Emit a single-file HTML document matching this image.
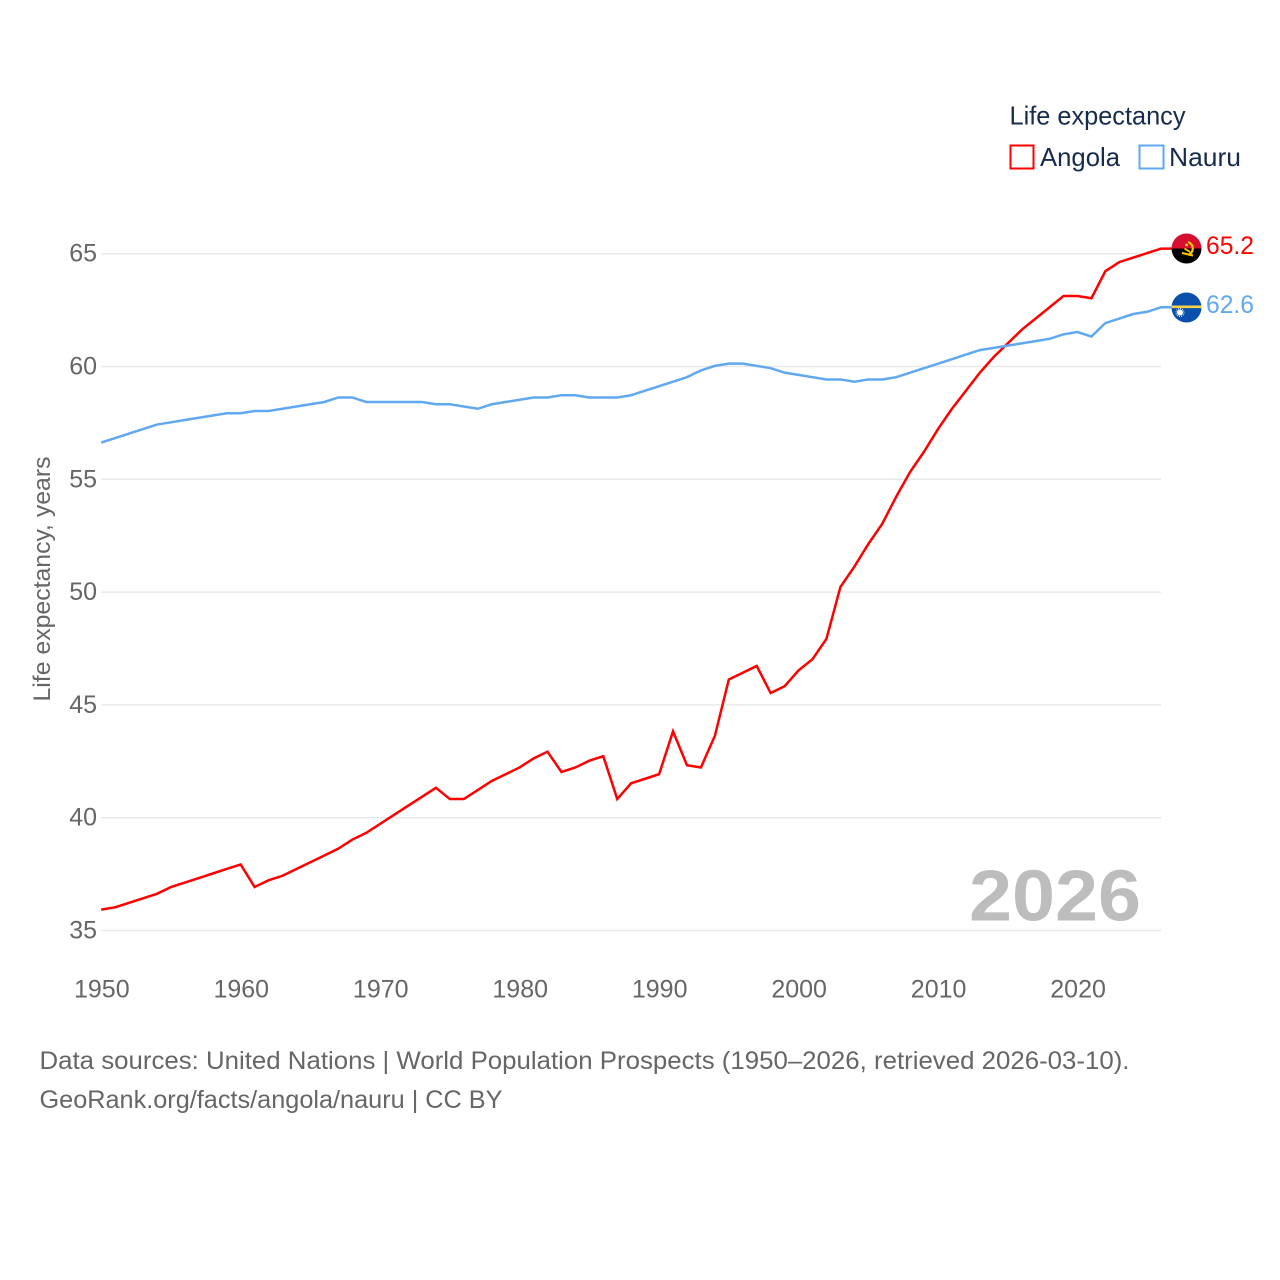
<!DOCTYPE html>
<html lang="en">
<head>
<meta charset="utf-8">
<title>Life expectancy: Angola and Nauru</title>
<style>
  html, body { margin: 0; padding: 0; background: #fff; }
  svg { display: block; }
  text { font-family: "Liberation Sans", sans-serif; }
</style>
</head>
<body>
<svg id="chart" xmlns="http://www.w3.org/2000/svg" width="1280" height="1280" viewBox="0 0 1280 1280">
  <defs>
    <clipPath id="clip-angola"><circle cx="1186.5" cy="248.5" r="15"/></clipPath>
    <clipPath id="clip-nauru"><circle cx="1186.5" cy="307.5" r="15"/></clipPath>
  </defs>
  <rect width="1280" height="1280" fill="#ffffff"/>
  <g id="grid"></g>
  <g id="y-ticks"></g>
  <g id="x-ticks"></g>

  <text transform="translate(50,579) rotate(-90)" text-anchor="middle" font-size="24" fill="#666666" textLength="245" lengthAdjust="spacingAndGlyphs">Life expectancy, years</text>

  <text x="969" y="920.5" font-size="72" font-weight="700" fill="#bdbdbd" textLength="172" lengthAdjust="spacingAndGlyphs">2026</text>

  <g id="series"></g>

  <g clip-path="url(#clip-angola)">
    <rect x="1171" y="233" width="31" height="15.5" fill="#d50f2f"/>
    <rect x="1171" y="248.5" width="31" height="15.5" fill="#000000"/>
    <path d="M1188 242 A6.8 6.8 0 0 1 1188 255" fill="none" stroke="#ffcb00" stroke-width="2.2"/>
    <path d="M1182 253 L1193 255.5" fill="none" stroke="#ffcb00" stroke-width="2"/>
    <path d="M1184.5 248.5 L1190 252" fill="none" stroke="#ffcb00" stroke-width="1.8"/>
    <circle cx="1186.5" cy="245" r="1.4" fill="#ffcb00"/>
  </g>
  <g clip-path="url(#clip-nauru)">
    <rect x="1171" y="292" width="31" height="31" fill="#0a4fab"/>
    <rect x="1171" y="305.5" width="31" height="2.6" fill="#f8d047"/>
    <circle cx="1180" cy="312.5" r="3" fill="#ffffff"/>
    <circle cx="1180" cy="312.5" r="4" fill="none" stroke="#ffffff" stroke-width="1" stroke-dasharray="1 1.1"/>
  </g>

  <text x="1206" y="254" font-size="25" fill="#ff0000" textLength="48" lengthAdjust="spacingAndGlyphs">65.2</text>
  <text x="1206" y="313" font-size="25" fill="#60a8f0" textLength="48" lengthAdjust="spacingAndGlyphs">62.6</text>

  <g>
    <text x="1009.5" y="124.5" font-size="26" fill="#172b4d" textLength="176" lengthAdjust="spacingAndGlyphs">Life expectancy</text>
    <g>
      <rect x="1010.5" y="145.5" width="23" height="23" fill="#ffffff" stroke="#ff0000" stroke-width="2"/>
      <text x="1040" y="166" font-size="26" fill="#172b4d" textLength="80" lengthAdjust="spacingAndGlyphs">Angola</text>
    </g>
    <g>
      <rect x="1139.5" y="145.5" width="24" height="23" fill="#ffffff" stroke="#60a8f0" stroke-width="2"/>
      <text x="1169" y="166" font-size="26" fill="#172b4d" textLength="72" lengthAdjust="spacingAndGlyphs">Nauru</text>
    </g>
  </g>

  <text x="39.5" y="1069" font-size="25" fill="#666666" textLength="1090" lengthAdjust="spacingAndGlyphs">Data sources: United Nations | World Population Prospects (1950–2026, retrieved 2026-03-10).</text>
  <text x="39.5" y="1108" font-size="25" fill="#666666" textLength="463" lengthAdjust="spacingAndGlyphs">GeoRank.org/facts/angola/nauru | CC BY</text>
</svg>

<script>
const startYear = 1950;
const yTickValues = [35, 40, 45, 50, 55, 60, 65];
const xTickValues = [1950, 1960, 1970, 1980, 1990, 2000, 2010, 2020];
const angolaValues = [
  35.9, 36.0, 36.2, 36.4, 36.6, 36.9, 37.1, 37.3, 37.5, 37.7,
  37.9, 36.9, 37.2, 37.4, 37.7, 38.0, 38.3, 38.6, 39.0, 39.3,
  39.7, 40.1, 40.5, 40.9, 41.3, 40.8, 40.8, 41.2, 41.6, 41.9,
  42.2, 42.6, 42.9, 42.0, 42.2, 42.5, 42.7, 40.8, 41.5, 41.7,
  41.9, 43.8, 42.3, 42.2, 43.6, 46.1, 46.4, 46.7, 45.5, 45.8,
  46.5, 47.0, 47.9, 50.2, 51.1, 52.1, 53.0, 54.2, 55.3, 56.2,
  57.2, 58.1, 58.9, 59.7, 60.4, 61.0, 61.6, 62.1, 62.6, 63.1,
  63.1, 63.0, 64.2, 64.6, 64.8, 65.0, 65.2
];
const nauruValues = [
  56.6, 56.8, 57.0, 57.2, 57.4, 57.5, 57.6, 57.7, 57.8, 57.9,
  57.9, 58.0, 58.0, 58.1, 58.2, 58.3, 58.4, 58.6, 58.6, 58.4,
  58.4, 58.4, 58.4, 58.4, 58.3, 58.3, 58.2, 58.1, 58.3, 58.4,
  58.5, 58.6, 58.6, 58.7, 58.7, 58.6, 58.6, 58.6, 58.7, 58.9,
  59.1, 59.3, 59.5, 59.8, 60.0, 60.1, 60.1, 60.0, 59.9, 59.7,
  59.6, 59.5, 59.4, 59.4, 59.3, 59.4, 59.4, 59.5, 59.7, 59.9,
  60.1, 60.3, 60.5, 60.7, 60.8, 60.9, 61.0, 61.1, 61.2, 61.4,
  61.5, 61.3, 61.9, 62.1, 62.3, 62.4, 62.6
];

const SVG_NS = 'http://www.w3.org/2000/svg';
function xScale(year) { return 101.2 + (year - 1950) * 13.947; }
function yScale(v) { return 930.5 - (v - 35) * (930.5 - 253.7) / 30; }
function lineY(v) { return yScale(v) - 0.6; }

const gridGroup = document.getElementById('grid');
const yTickGroup = document.getElementById('y-ticks');
const xTickGroup = document.getElementById('x-ticks');
const seriesGroup = document.getElementById('series');

yTickValues.forEach(function (v) {
  const line = document.createElementNS(SVG_NS, 'line');
  
  
  line.setAttribute('x1', xScale(1950));
  line.setAttribute('x2', xScale(2026));
  line.setAttribute('y1', yScale(v));
  line.setAttribute('y2', yScale(v));
  line.setAttribute('stroke', '#e9e9e9');
  line.setAttribute('stroke-width', '1.5');
  gridGroup.appendChild(line);

  const label = document.createElementNS(SVG_NS, 'text');
  
  
  label.setAttribute('x', '97');
  label.setAttribute('y', yScale(v) + 8);
  label.setAttribute('text-anchor', 'end');
  label.setAttribute('font-size', '25');
  label.setAttribute('fill', '#666666');
  label.textContent = v;
  yTickGroup.appendChild(label);
});

xTickValues.forEach(function (year) {
  const label = document.createElementNS(SVG_NS, 'text');
  
  
  label.setAttribute('x', xScale(year) + 0.6);
  label.setAttribute('y', '997.5');
  label.setAttribute('text-anchor', 'middle');
  label.setAttribute('font-size', '25');
  label.setAttribute('fill', '#666666');
  label.textContent = year;
  xTickGroup.appendChild(label);
});

function seriesPoints(values) {
  return values.map(function (v, i) {
    return xScale(startYear + i).toFixed(2) + ',' + lineY(v).toFixed(2);
  });
}

const angolaPoints = seriesPoints(angolaValues);
angolaPoints.push('1172,' + lineY(angolaValues[angolaValues.length - 1]).toFixed(2));
const angolaLine = document.createElementNS(SVG_NS, 'polyline');


angolaLine.setAttribute('points', angolaPoints.join(' '));
angolaLine.setAttribute('fill', 'none');
angolaLine.setAttribute('stroke', '#ff0000');
angolaLine.setAttribute('stroke-width', '2.5');
angolaLine.setAttribute('stroke-linejoin', 'miter');
seriesGroup.appendChild(angolaLine);

const nauruPoints = seriesPoints(nauruValues);
nauruPoints.push('1172,' + lineY(nauruValues[nauruValues.length - 1]).toFixed(2));
const nauruLine = document.createElementNS(SVG_NS, 'polyline');


nauruLine.setAttribute('points', nauruPoints.join(' '));
nauruLine.setAttribute('fill', 'none');
nauruLine.setAttribute('stroke', '#60a8f0');
nauruLine.setAttribute('stroke-width', '2.5');
nauruLine.setAttribute('stroke-linejoin', 'miter');
seriesGroup.appendChild(nauruLine);
</script>
</body>
</html>
